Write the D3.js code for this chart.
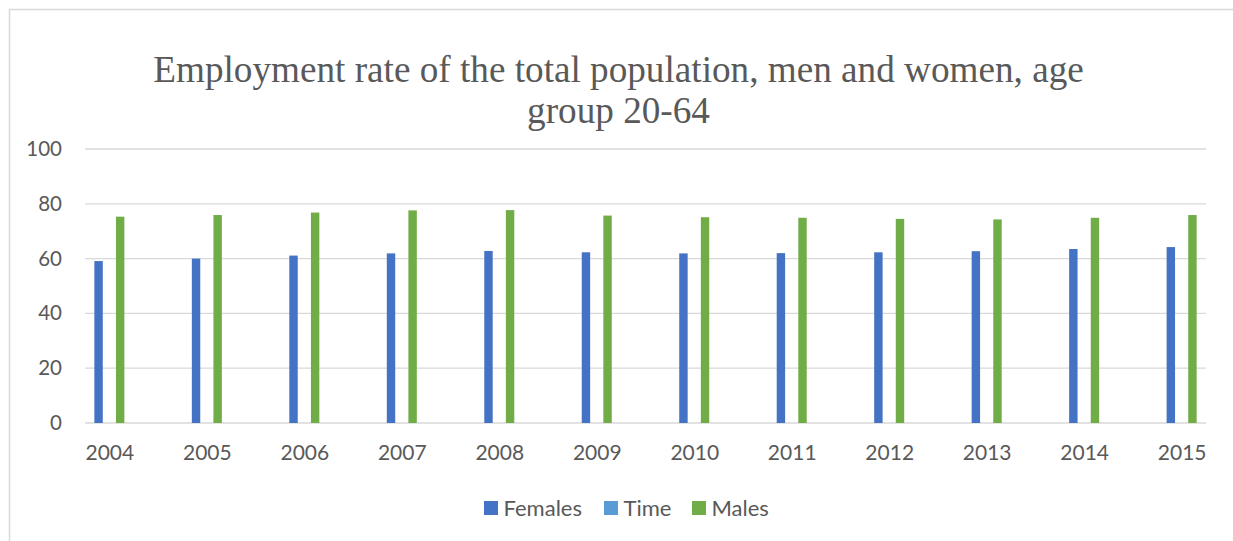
<!DOCTYPE html>
<html>
<head>
<meta charset="utf-8">
<script src="https://cdn.jsdelivr.net/npm/d3@7"></script>
<style>
  html, body { margin: 0; padding: 0; background: #fff; }
  svg { display: block; }
</style>
</head>
<body>
<svg id="chart" width="1233" height="541"></svg>
<script>
const years = ["2004","2005","2006","2007","2008","2009","2010","2011","2012","2013","2014","2015"];
const females = [59.1, 60.0, 61.1, 61.9, 62.8, 62.3, 61.9, 62.0, 62.3, 62.7, 63.5, 64.2];
const time    = [0, 0, 0, 0, 0, 0, 0, 0, 0, 0, 0, 0];
const males   = [75.3, 75.9, 76.8, 77.6, 77.7, 75.7, 75.1, 74.9, 74.5, 74.3, 74.9, 75.9];
const seriesNames = ["Females", "Time", "Males"];
const seriesColors = ["#4472C4", "#5B9BD5", "#70AD47"];
const yTicks = [0, 20, 40, 60, 80, 100];
const titleLines = ["Employment rate of the total population, men and women, age", "group 20-64"];

const seriesValues = [females, time, males];

const svg = d3.select("#chart");
const plotLeft = 85, plotRight = 1206, plotTop = 149, plotBottom = 423;

// chart border
svg.append("path")
  .attr("d", "M9.5,541 L9.5,9.5 L1233,9.5")
  .attr("fill", "none").attr("stroke", "#d9d9d9").attr("stroke-width", 1.5);

const x = d3.scalePoint().domain(years).range([plotLeft, plotRight]).padding(0.25);
const x1 = d3.scaleBand().domain(seriesNames).range([-16.2, 16.2]).paddingInner(0.22).paddingOuter(0.11);
const y = d3.scaleLinear().domain([0, 100]).range([plotBottom, plotTop]);

// gridlines
svg.append("g").selectAll("line").data(yTicks).join("line")
  .attr("x1", plotLeft).attr("x2", plotRight)
  .attr("y1", d => y(d)).attr("y2", d => y(d))
  .attr("stroke", "#d9d9d9").attr("stroke-width", 1.3);

// y axis labels
const yAxis = d3.axisLeft(y).tickValues(yTicks).tickSize(0).tickPadding(23);
const gy = svg.append("g").attr("transform", `translate(${plotLeft},0)`).call(yAxis);
gy.select(".domain").remove();
gy.selectAll("text").attr("font-family", "Lato, 'Open Sans', sans-serif")
  .attr("font-size", 20.5).attr("fill", "#595959");

// x axis labels
const xAxis = d3.axisBottom(x).tickSize(0).tickPadding(22);
const gx = svg.append("g").attr("transform", `translate(0,${plotBottom})`).call(xAxis);
gx.select(".domain").remove();
gx.selectAll("text").attr("font-family", "Lato, 'Open Sans', sans-serif")
  .attr("font-size", 21).attr("fill", "#595959");

// bars
const rows = [];
years.forEach((yr, i) => {
  seriesNames.forEach((s, j) => {
    rows.push({ year: yr, series: s, value: seriesValues[j][i], color: seriesColors[j] });
  });
});
svg.append("g").selectAll("rect").data(rows.filter(d => d.value > 0)).join("rect")
  .attr("x", d => x(d.year) + x1(d.series))
  .attr("width", x1.bandwidth())
  .attr("y", d => y(d.value))
  .attr("height", d => y(0) - y(d.value))
  .attr("fill", d => d.color);

// title
const title = svg.append("text")
  .attr("font-family", "'Liberation Serif', 'Times New Roman', serif")
  .attr("font-size", 37.2).attr("fill", "#595959").attr("text-anchor", "middle");
titleLines.forEach((t, i) => {
  title.append("tspan").attr("x", 618.5).attr("y", 82 + i * 41).text(t);
});

// legend
const legendX = [484, 604, 692];
const lg = svg.append("g").selectAll("g").data(seriesNames).join("g")
  .attr("transform", (d, i) => `translate(${legendX[i]},501)`);
lg.append("rect").attr("width", 14).attr("height", 14).attr("fill", (d, i) => seriesColors[i]);
lg.append("text").attr("x", 19.5).attr("y", 14.5)
  .attr("font-family", "Lato, 'Open Sans', sans-serif")
  .attr("font-size", 22).attr("fill", "#595959").text(d => d);
</script>
</body>
</html>
